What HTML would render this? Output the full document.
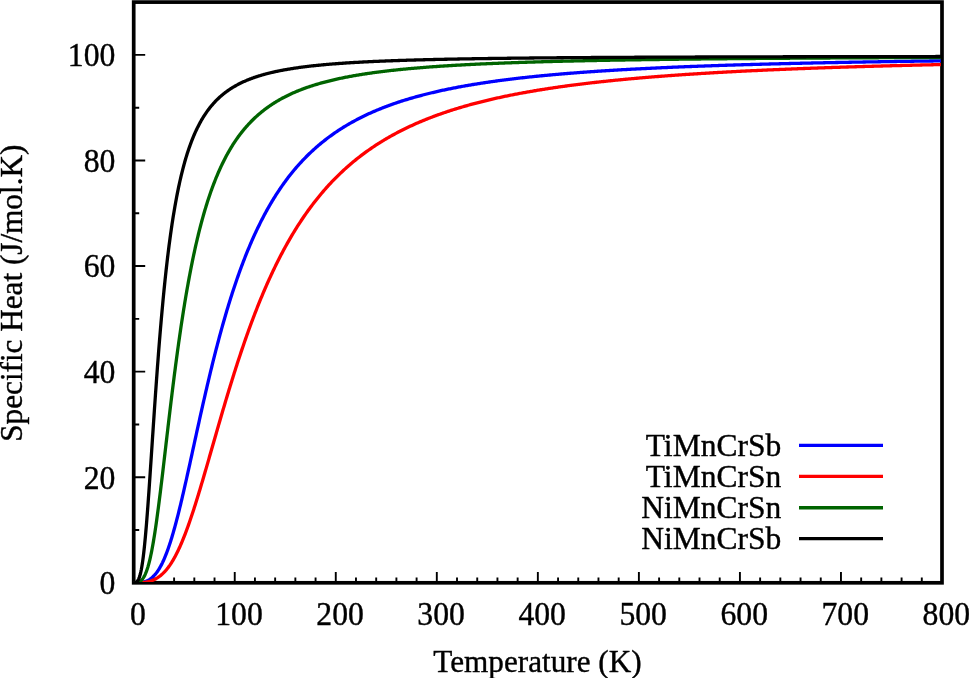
<!DOCTYPE html>
<html><head><meta charset="utf-8"><style>
html,body{margin:0;padding:0;background:#fff;overflow:hidden;}
svg{display:block;will-change:transform;}
text{font-family:"Liberation Serif",serif;font-size:33px;fill:#000;stroke:#000;stroke-width:0.4px;}
</style></head><body>
<svg width="969" height="678" viewBox="0 0 969 678">
<rect width="969" height="678" fill="#fff"/>
<defs><clipPath id="pa"><rect x="133.7" y="2.1" width="807.20" height="579.80"/></clipPath></defs>
<path d="M153.91,582.80v-5.4 M174.11,582.80v-5.4 M194.32,582.80v-5.4 M214.53,582.80v-5.4 M234.74,582.80v-10.9 M254.94,582.80v-5.4 M275.15,582.80v-5.4 M295.36,582.80v-5.4 M315.57,582.80v-5.4 M335.77,582.80v-10.9 M355.98,582.80v-5.4 M376.19,582.80v-5.4 M396.40,582.80v-5.4 M416.60,582.80v-5.4 M436.81,582.80v-10.9 M457.02,582.80v-5.4 M477.23,582.80v-5.4 M497.44,582.80v-5.4 M517.64,582.80v-5.4 M537.85,582.80v-10.9 M558.06,582.80v-5.4 M578.26,582.80v-5.4 M598.47,582.80v-5.4 M618.68,582.80v-5.4 M638.89,582.80v-10.9 M659.10,582.80v-5.4 M679.30,582.80v-5.4 M699.51,582.80v-5.4 M719.72,582.80v-5.4 M739.92,582.80v-10.9 M760.13,582.80v-5.4 M780.34,582.80v-5.4 M800.55,582.80v-5.4 M820.75,582.80v-5.4 M840.96,582.80v-10.9 M861.17,582.80v-5.4 M881.38,582.80v-5.4 M901.59,582.80v-5.4 M921.79,582.80v-5.4 M133.70,530.01h5.5 M133.70,477.22h11.5 M133.70,424.43h5.5 M133.70,371.64h11.5 M133.70,318.85h5.5 M133.70,266.05h11.5 M133.70,213.26h5.5 M133.70,160.47h11.5 M133.70,107.68h5.5 M133.70,54.89h11.5" stroke="#000" stroke-width="1.9" fill="none"/>
<rect x="133.7" y="2.1" width="808.30" height="580.70" fill="none" stroke="#000" stroke-width="3.7"/>
<g fill="none" stroke-width="3.3" stroke-linejoin="round" clip-path="url(#pa)">
<path d="M133.70,582.80 L134.21,582.80 L134.71,582.80 L135.22,582.80 L135.72,582.79 L136.23,582.79 L136.73,582.78 L137.24,582.76 L137.74,582.74 L138.25,582.72 L138.75,582.69 L139.26,582.65 L139.76,582.61 L140.27,582.56 L140.77,582.50 L141.28,582.43 L141.78,582.35 L142.29,582.26 L142.79,582.16 L143.30,582.05 L143.80,581.92 L144.31,581.79 L144.81,581.63 L145.32,581.47 L145.82,581.29 L146.33,581.09 L146.83,580.88 L147.34,580.64 L147.85,580.40 L148.35,580.13 L148.86,579.84 L149.36,579.54 L149.87,579.21 L150.37,578.86 L150.88,578.50 L151.38,578.10 L151.89,577.69 L152.39,577.25 L152.90,576.79 L153.40,576.30 L153.91,575.79 L154.41,575.25 L154.92,574.69 L155.42,574.09 L155.93,573.47 L156.43,572.82 L156.94,572.14 L157.44,571.44 L157.95,570.70 L158.45,569.93 L158.96,569.13 L159.46,568.29 L159.97,567.43 L160.47,566.53 L160.98,565.60 L161.49,564.64 L161.99,563.64 L162.50,562.61 L163.00,561.54 L163.51,560.44 L164.01,559.31 L164.52,558.14 L165.02,556.93 L165.53,555.69 L166.03,554.42 L166.54,553.11 L167.04,551.77 L167.55,550.40 L168.05,548.99 L168.56,547.54 L169.06,546.07 L169.57,544.56 L170.07,543.01 L170.58,541.44 L171.08,539.83 L171.59,538.19 L172.09,536.52 L172.60,534.82 L173.10,533.09 L173.61,531.33 L174.11,529.54 L174.62,527.73 L175.13,525.89 L175.63,524.02 L176.14,522.12 L176.64,520.20 L177.15,518.26 L177.65,516.29 L178.16,514.30 L178.66,512.29 L179.17,510.25 L179.67,508.20 L180.18,506.13 L180.68,504.03 L181.19,501.92 L181.69,499.79 L182.20,497.65 L182.70,495.49 L183.21,493.32 L183.71,491.13 L184.22,488.93 L184.72,486.71 L185.23,484.49 L185.73,482.25 L186.24,480.00 L186.74,477.75 L187.25,475.48 L187.76,473.21 L188.26,470.93 L188.77,468.64 L189.27,466.35 L189.78,464.05 L190.28,461.75 L190.79,459.45 L191.29,457.14 L191.80,454.83 L192.30,452.51 L192.81,450.20 L193.31,447.89 L193.82,445.57 L194.32,443.26 L194.83,440.94 L195.33,438.63 L195.84,436.32 L196.34,434.01 L196.85,431.71 L197.35,429.41 L197.86,427.11 L198.36,424.82 L198.87,422.53 L199.37,420.25 L199.88,417.97 L200.38,415.70 L200.89,413.43 L201.40,411.17 L201.90,408.92 L202.41,406.67 L202.91,404.44 L203.42,402.21 L203.92,399.99 L204.43,397.78 L204.93,395.57 L205.44,393.38 L205.94,391.19 L206.45,389.02 L206.95,386.85 L207.46,384.69 L207.96,382.55 L208.47,380.41 L208.97,378.28 L209.48,376.17 L209.98,374.06 L210.49,371.97 L210.99,369.89 L211.50,367.82 L212.00,365.76 L212.51,363.71 L213.01,361.67 L213.52,359.65 L214.02,357.64 L214.53,355.63 L215.04,353.65 L215.54,351.67 L216.05,349.70 L216.55,347.75 L217.06,345.81 L217.56,343.88 L218.07,341.96 L218.57,340.06 L219.08,338.17 L219.58,336.29 L220.09,334.42 L220.59,332.57 L221.10,330.73 L221.60,328.90 L222.11,327.08 L222.61,325.28 L223.12,323.49 L223.62,321.71 L224.13,319.94 L224.63,318.18 L225.14,316.44 L225.64,314.71 L226.15,313.00 L226.65,311.29 L227.16,309.60 L227.66,307.92 L228.17,306.25 L228.68,304.59 L229.18,302.95 L229.69,301.32 L230.19,299.70 L230.70,298.09 L231.20,296.50 L231.71,294.91 L232.21,293.34 L232.72,291.78 L233.22,290.24 L233.73,288.70 L234.23,287.18 L234.74,285.66 L235.24,284.16 L235.75,282.67 L236.25,281.20 L236.76,279.73 L237.26,278.27 L237.77,276.83 L238.27,275.40 L238.78,273.98 L239.28,272.56 L239.79,271.17 L240.29,269.78 L240.80,268.40 L241.30,267.03 L241.81,265.68 L242.32,264.33 L242.82,263.00 L243.33,261.67 L243.83,260.36 L244.34,259.05 L244.84,257.76 L245.35,256.48 L245.85,255.20 L246.36,253.94 L246.86,252.69 L247.37,251.44 L247.87,250.21 L248.38,248.99 L248.88,247.77 L249.39,246.57 L249.89,245.38 L250.40,244.19 L250.90,243.01 L251.41,241.85 L251.91,240.69 L252.42,239.54 L252.92,238.40 L253.43,237.27 L253.93,236.15 L254.44,235.04 L254.94,233.94 L255.45,232.84 L255.96,231.76 L256.46,230.68 L256.97,229.61 L257.47,228.55 L257.98,227.50 L258.48,226.46 L258.99,225.42 L259.49,224.40 L260.00,223.38 L260.50,222.37 L261.01,221.37 L261.51,220.37 L262.02,219.38 L262.52,218.40 L263.03,217.43 L263.53,216.47 L264.04,215.51 L264.54,214.56 L265.05,213.62 L265.55,212.69 L266.06,211.76 L266.56,210.84 L267.07,209.93 L267.57,209.03 L268.08,208.13 L268.59,207.24 L269.09,206.35 L269.60,205.48 L270.10,204.61 L270.61,203.74 L271.11,202.89 L271.62,202.04 L272.12,201.19 L272.63,200.36 L273.13,199.53 L273.64,198.70 L274.14,197.89 L274.65,197.07 L275.15,196.27 L275.66,195.47 L276.16,194.68 L276.67,193.89 L277.17,193.11 L277.68,192.34 L278.18,191.57 L278.69,190.80 L279.19,190.05 L279.70,189.30 L280.20,188.55 L280.71,187.81 L281.21,187.08 L281.72,186.35 L282.23,185.63 L282.73,184.91 L283.24,184.20 L283.74,183.49 L284.25,182.79 L284.75,182.09 L285.26,181.40 L286.27,180.03 L287.28,178.69 L288.29,177.36 L289.30,176.05 L290.31,174.77 L291.32,173.50 L292.33,172.25 L293.34,171.02 L294.35,169.80 L295.36,168.61 L296.37,167.43 L297.38,166.27 L298.39,165.12 L299.40,163.99 L300.41,162.88 L301.42,161.79 L302.43,160.70 L303.44,159.64 L304.45,158.59 L305.46,157.55 L306.47,156.53 L307.48,155.52 L308.49,154.53 L309.51,153.55 L310.52,152.59 L311.53,151.64 L312.54,150.70 L313.55,149.77 L314.56,148.86 L315.57,147.96 L316.58,147.07 L317.59,146.19 L318.60,145.33 L319.61,144.47 L320.62,143.63 L321.63,142.80 L322.64,141.98 L323.65,141.17 L324.66,140.37 L325.67,139.58 L326.68,138.81 L327.69,138.04 L328.70,137.28 L329.71,136.54 L330.72,135.80 L331.73,135.07 L332.74,134.35 L333.75,133.64 L334.76,132.94 L335.77,132.25 L336.79,131.57 L337.80,130.89 L338.81,130.23 L339.82,129.57 L340.83,128.92 L341.84,128.28 L342.85,127.65 L343.86,127.02 L344.87,126.40 L345.88,125.79 L346.89,125.19 L347.90,124.60 L348.91,124.01 L349.92,123.43 L350.93,122.86 L351.94,122.29 L352.95,121.73 L353.96,121.18 L354.97,120.63 L355.98,120.09 L356.99,119.55 L358.00,119.03 L359.01,118.51 L360.02,117.99 L361.03,117.48 L362.04,116.98 L363.06,116.48 L364.07,115.99 L365.08,115.50 L366.09,115.02 L367.10,114.55 L368.11,114.08 L369.12,113.62 L370.13,113.16 L371.14,112.71 L372.15,112.26 L373.16,111.81 L374.17,111.38 L375.18,110.94 L376.19,110.51 L377.20,110.09 L378.21,109.67 L379.22,109.26 L380.23,108.85 L381.24,108.44 L382.25,108.04 L383.26,107.64 L384.27,107.25 L385.28,106.86 L386.29,106.48 L387.30,106.10 L388.31,105.72 L389.32,105.35 L390.34,104.99 L391.35,104.62 L392.36,104.26 L393.37,103.91 L394.38,103.55 L395.39,103.21 L396.40,102.86 L397.41,102.52 L398.42,102.18 L399.43,101.85 L400.44,101.52 L401.45,101.19 L402.46,100.87 L403.47,100.55 L404.48,100.23 L405.49,99.91 L406.50,99.60 L407.51,99.30 L408.52,98.99 L409.53,98.69 L410.54,98.39 L411.55,98.10 L412.56,97.80 L413.57,97.51 L414.58,97.23 L415.59,96.94 L416.60,96.66 L417.62,96.38 L418.63,96.11 L419.64,95.84 L420.65,95.57 L421.66,95.30 L422.67,95.03 L423.68,94.77 L424.69,94.51 L425.70,94.25 L426.71,94.00 L427.72,93.75 L428.73,93.50 L429.74,93.25 L430.75,93.00 L431.76,92.76 L432.77,92.52 L433.78,92.28 L434.79,92.05 L435.80,91.81 L436.81,91.58 L437.82,91.35 L438.83,91.12 L439.84,90.90 L440.85,90.68 L441.86,90.45 L442.87,90.24 L443.89,90.02 L444.90,89.80 L445.91,89.59 L446.92,89.38 L447.93,89.17 L448.94,88.96 L449.95,88.76 L450.96,88.55 L451.97,88.35 L452.98,88.15 L453.99,87.95 L455.00,87.76 L456.01,87.56 L457.02,87.37 L458.03,87.18 L459.04,86.99 L460.05,86.80 L461.06,86.61 L462.07,86.43 L463.08,86.25 L464.09,86.07 L465.10,85.89 L466.11,85.71 L467.12,85.53 L468.13,85.36 L469.14,85.18 L470.15,85.01 L471.17,84.84 L472.18,84.67 L473.19,84.50 L474.20,84.33 L475.21,84.17 L476.22,84.01 L477.23,83.84 L478.24,83.68 L479.25,83.52 L480.26,83.37 L481.27,83.21 L482.28,83.05 L483.29,82.90 L484.30,82.75 L485.31,82.59 L486.32,82.44 L487.33,82.29 L488.34,82.15 L489.35,82.00 L490.36,81.85 L491.37,81.71 L492.38,81.57 L493.39,81.42 L494.40,81.28 L495.41,81.14 L496.42,81.00 L497.44,80.87 L498.45,80.73 L499.46,80.59 L500.47,80.46 L501.48,80.33 L502.49,80.19 L503.50,80.06 L504.51,79.93 L505.52,79.80 L506.53,79.67 L507.54,79.55 L508.55,79.42 L509.56,79.30 L510.57,79.17 L511.58,79.05 L512.59,78.93 L513.60,78.81 L514.61,78.68 L515.62,78.57 L516.63,78.45 L517.64,78.33 L518.65,78.21 L519.66,78.10 L520.67,77.98 L521.68,77.87 L522.69,77.75 L523.70,77.64 L524.72,77.53 L525.73,77.42 L526.74,77.31 L527.75,77.20 L528.76,77.09 L529.77,76.98 L530.78,76.88 L531.79,76.77 L532.80,76.67 L533.81,76.56 L534.82,76.46 L535.83,76.36 L536.84,76.25 L537.85,76.15 L538.86,76.05 L539.87,75.95 L540.88,75.85 L541.89,75.75 L542.90,75.66 L543.91,75.56 L544.92,75.46 L545.93,75.37 L546.94,75.27 L547.95,75.18 L548.96,75.08 L549.97,74.99 L550.98,74.90 L552.00,74.81 L553.01,74.72 L554.02,74.63 L555.03,74.54 L556.04,74.45 L557.05,74.36 L558.06,74.27 L559.07,74.18 L560.08,74.10 L561.09,74.01 L562.10,73.93 L563.11,73.84 L564.12,73.76 L565.13,73.67 L566.14,73.59 L567.15,73.51 L568.16,73.43 L569.17,73.34 L570.18,73.26 L571.19,73.18 L572.20,73.10 L573.21,73.02 L574.22,72.95 L575.23,72.87 L576.24,72.79 L577.25,72.71 L578.26,72.64 L579.28,72.56 L580.29,72.48 L581.30,72.41 L582.31,72.33 L583.32,72.26 L584.33,72.19 L585.34,72.11 L586.35,72.04 L587.36,71.97 L588.37,71.90 L589.38,71.83 L590.39,71.76 L591.40,71.68 L592.41,71.62 L593.42,71.55 L594.43,71.48 L595.44,71.41 L596.45,71.34 L597.46,71.27 L598.47,71.21 L599.48,71.14 L600.49,71.07 L601.50,71.01 L602.51,70.94 L603.52,70.88 L604.53,70.81 L605.55,70.75 L606.56,70.68 L607.57,70.62 L608.58,70.56 L609.59,70.49 L610.60,70.43 L611.61,70.37 L612.62,70.31 L613.63,70.25 L614.64,70.19 L615.65,70.13 L616.66,70.07 L617.67,70.01 L618.68,69.95 L619.69,69.89 L620.70,69.83 L621.71,69.77 L622.72,69.71 L623.73,69.66 L624.74,69.60 L625.75,69.54 L626.76,69.49 L627.77,69.43 L628.78,69.37 L629.79,69.32 L630.80,69.26 L631.81,69.21 L632.83,69.15 L633.84,69.10 L634.85,69.05 L635.86,68.99 L636.87,68.94 L637.88,68.89 L638.89,68.84 L639.90,68.78 L640.91,68.73 L641.92,68.68 L642.93,68.63 L643.94,68.58 L644.95,68.53 L645.96,68.48 L646.97,68.43 L647.98,68.38 L648.99,68.33 L650.00,68.28 L651.01,68.23 L652.02,68.18 L653.03,68.13 L654.04,68.08 L655.05,68.04 L656.06,67.99 L657.07,67.94 L658.08,67.89 L659.10,67.85 L660.11,67.80 L661.12,67.76 L662.13,67.71 L663.14,67.66 L664.15,67.62 L665.16,67.57 L666.17,67.53 L667.18,67.48 L668.19,67.44 L669.20,67.40 L670.21,67.35 L671.22,67.31 L672.23,67.26 L673.24,67.22 L674.25,67.18 L675.26,67.14 L676.27,67.09 L677.28,67.05 L678.29,67.01 L679.30,66.97 L680.31,66.93 L681.32,66.89 L682.33,66.84 L683.34,66.80 L684.35,66.76 L685.36,66.72 L686.38,66.68 L687.39,66.64 L688.40,66.60 L689.41,66.56 L690.42,66.52 L691.43,66.48 L692.44,66.45 L693.45,66.41 L694.46,66.37 L695.47,66.33 L696.48,66.29 L697.49,66.25 L698.50,66.22 L699.51,66.18 L700.52,66.14 L701.53,66.11 L702.54,66.07 L703.55,66.03 L704.56,66.00 L705.57,65.96 L706.58,65.92 L707.59,65.89 L708.60,65.85 L709.61,65.82 L710.62,65.78 L711.63,65.75 L712.64,65.71 L713.66,65.68 L714.67,65.64 L715.68,65.61 L716.69,65.57 L717.70,65.54 L718.71,65.51 L719.72,65.47 L720.73,65.44 L721.74,65.40 L722.75,65.37 L723.76,65.34 L724.77,65.31 L725.78,65.27 L726.79,65.24 L727.80,65.21 L728.81,65.18 L729.82,65.14 L730.83,65.11 L731.84,65.08 L732.85,65.05 L733.86,65.02 L734.87,64.99 L735.88,64.96 L736.89,64.92 L737.90,64.89 L738.91,64.86 L739.92,64.83 L740.94,64.80 L741.95,64.77 L742.96,64.74 L743.97,64.71 L744.98,64.68 L745.99,64.65 L747.00,64.62 L748.01,64.59 L749.02,64.57 L750.03,64.54 L751.04,64.51 L752.05,64.48 L753.06,64.45 L754.07,64.42 L755.08,64.39 L756.09,64.37 L757.10,64.34 L758.11,64.31 L759.12,64.28 L760.13,64.26 L761.14,64.23 L762.15,64.20 L763.16,64.17 L764.17,64.15 L765.18,64.12 L766.19,64.09 L767.21,64.07 L768.22,64.04 L769.23,64.01 L770.24,63.99 L771.25,63.96 L772.26,63.93 L773.27,63.91 L774.28,63.88 L775.29,63.86 L776.30,63.83 L777.31,63.81 L778.32,63.78 L779.33,63.76 L780.34,63.73 L781.35,63.71 L782.36,63.68 L783.37,63.66 L784.38,63.63 L785.39,63.61 L786.40,63.58 L787.41,63.56 L788.42,63.53 L789.43,63.51 L790.44,63.49 L791.45,63.46 L792.46,63.44 L793.47,63.42 L794.49,63.39 L795.50,63.37 L796.51,63.35 L797.52,63.32 L798.53,63.30 L799.54,63.28 L800.55,63.25 L801.56,63.23 L802.57,63.21 L803.58,63.19 L804.59,63.16 L805.60,63.14 L806.61,63.12 L807.62,63.10 L808.63,63.07 L809.64,63.05 L810.65,63.03 L811.66,63.01 L812.67,62.99 L813.68,62.97 L814.69,62.94 L815.70,62.92 L816.71,62.90 L817.72,62.88 L818.73,62.86 L819.74,62.84 L820.75,62.82 L821.77,62.80 L822.78,62.78 L823.79,62.76 L824.80,62.74 L825.81,62.72 L826.82,62.69 L827.83,62.67 L828.84,62.65 L829.85,62.63 L830.86,62.61 L831.87,62.59 L832.88,62.57 L833.89,62.56 L834.90,62.54 L835.91,62.52 L836.92,62.50 L837.93,62.48 L838.94,62.46 L839.95,62.44 L840.96,62.42 L841.97,62.40 L842.98,62.38 L843.99,62.36 L845.00,62.34 L846.01,62.33 L847.02,62.31 L848.04,62.29 L849.05,62.27 L850.06,62.25 L851.07,62.23 L852.08,62.21 L853.09,62.20 L854.10,62.18 L855.11,62.16 L856.12,62.14 L857.13,62.12 L858.14,62.11 L859.15,62.09 L860.16,62.07 L861.17,62.05 L862.18,62.04 L863.19,62.02 L864.20,62.00 L865.21,61.98 L866.22,61.97 L867.23,61.95 L868.24,61.93 L869.25,61.92 L870.26,61.90 L871.27,61.88 L872.28,61.87 L873.29,61.85 L874.30,61.83 L875.32,61.82 L876.33,61.80 L877.34,61.78 L878.35,61.77 L879.36,61.75 L880.37,61.73 L881.38,61.72 L882.39,61.70 L883.40,61.69 L884.41,61.67 L885.42,61.65 L886.43,61.64 L887.44,61.62 L888.45,61.61 L889.46,61.59 L890.47,61.58 L891.48,61.56 L892.49,61.55 L893.50,61.53 L894.51,61.51 L895.52,61.50 L896.53,61.48 L897.54,61.47 L898.55,61.45 L899.56,61.44 L900.57,61.42 L901.59,61.41 L902.60,61.39 L903.61,61.38 L904.62,61.36 L905.63,61.35 L906.64,61.34 L907.65,61.32 L908.66,61.31 L909.67,61.29 L910.68,61.28 L911.69,61.26 L912.70,61.25 L913.71,61.23 L914.72,61.22 L915.73,61.21 L916.74,61.19 L917.75,61.18 L918.76,61.16 L919.77,61.15 L920.78,61.14 L921.79,61.12 L922.80,61.11 L923.81,61.10 L924.82,61.08 L925.83,61.07 L926.84,61.06 L927.85,61.04 L928.87,61.03 L929.88,61.02 L930.89,61.00 L931.90,60.99 L932.91,60.98 L933.92,60.96 L934.93,60.95 L935.94,60.94 L936.95,60.92 L937.96,60.91 L938.97,60.90 L939.98,60.88 L940.99,60.87 L942.00,60.86" stroke="#0000ff" />
<path d="M133.70,582.80 L134.21,582.80 L134.71,582.80 L135.22,582.80 L135.72,582.80 L136.23,582.79 L136.73,582.79 L137.24,582.78 L137.74,582.78 L138.25,582.76 L138.75,582.75 L139.26,582.74 L139.76,582.72 L140.27,582.69 L140.77,582.67 L141.28,582.64 L141.78,582.60 L142.29,582.56 L142.79,582.52 L143.30,582.47 L143.80,582.41 L144.31,582.35 L144.81,582.29 L145.32,582.21 L145.82,582.13 L146.33,582.05 L146.83,581.95 L147.34,581.85 L147.85,581.74 L148.35,581.62 L148.86,581.50 L149.36,581.36 L149.87,581.22 L150.37,581.07 L150.88,580.91 L151.38,580.73 L151.89,580.55 L152.39,580.36 L152.90,580.16 L153.40,579.94 L153.91,579.72 L154.41,579.48 L154.92,579.23 L155.42,578.97 L155.93,578.69 L156.43,578.41 L156.94,578.11 L157.44,577.80 L157.95,577.47 L158.45,577.13 L158.96,576.77 L159.46,576.41 L159.97,576.02 L160.47,575.62 L160.98,575.21 L161.49,574.78 L161.99,574.34 L162.50,573.87 L163.00,573.40 L163.51,572.90 L164.01,572.39 L164.52,571.86 L165.02,571.32 L165.53,570.76 L166.03,570.17 L166.54,569.58 L167.04,568.96 L167.55,568.32 L168.05,567.67 L168.56,566.99 L169.06,566.30 L169.57,565.59 L170.07,564.86 L170.58,564.11 L171.08,563.34 L171.59,562.55 L172.09,561.74 L172.60,560.91 L173.10,560.06 L173.61,559.20 L174.11,558.31 L174.62,557.40 L175.13,556.47 L175.63,555.52 L176.14,554.55 L176.64,553.56 L177.15,552.55 L177.65,551.52 L178.16,550.48 L178.66,549.41 L179.17,548.32 L179.67,547.21 L180.18,546.09 L180.68,544.94 L181.19,543.77 L181.69,542.59 L182.20,541.39 L182.70,540.17 L183.21,538.93 L183.71,537.67 L184.22,536.40 L184.72,535.10 L185.23,533.79 L185.73,532.47 L186.24,531.12 L186.74,529.76 L187.25,528.39 L187.76,526.99 L188.26,525.59 L188.77,524.16 L189.27,522.72 L189.78,521.27 L190.28,519.80 L190.79,518.32 L191.29,516.83 L191.80,515.32 L192.30,513.80 L192.81,512.26 L193.31,510.72 L193.82,509.16 L194.32,507.59 L194.83,506.01 L195.33,504.42 L195.84,502.81 L196.34,501.20 L196.85,499.58 L197.35,497.95 L197.86,496.31 L198.36,494.66 L198.87,493.00 L199.37,491.33 L199.88,489.66 L200.38,487.98 L200.89,486.29 L201.40,484.59 L201.90,482.89 L202.41,481.18 L202.91,479.47 L203.42,477.75 L203.92,476.03 L204.43,474.30 L204.93,472.57 L205.44,470.83 L205.94,469.09 L206.45,467.35 L206.95,465.60 L207.46,463.85 L207.96,462.10 L208.47,460.34 L208.97,458.58 L209.48,456.83 L209.98,455.07 L210.49,453.31 L210.99,451.54 L211.50,449.78 L212.00,448.02 L212.51,446.26 L213.01,444.49 L213.52,442.73 L214.02,440.97 L214.53,439.21 L215.04,437.45 L215.54,435.69 L216.05,433.93 L216.55,432.17 L217.06,430.42 L217.56,428.67 L218.07,426.92 L218.57,425.17 L219.08,423.43 L219.58,421.69 L220.09,419.95 L220.59,418.21 L221.10,416.48 L221.60,414.75 L222.11,413.03 L222.61,411.31 L223.12,409.59 L223.62,407.88 L224.13,406.17 L224.63,404.47 L225.14,402.77 L225.64,401.07 L226.15,399.38 L226.65,397.70 L227.16,396.02 L227.66,394.34 L228.17,392.67 L228.68,391.01 L229.18,389.35 L229.69,387.70 L230.19,386.05 L230.70,384.41 L231.20,382.77 L231.71,381.14 L232.21,379.52 L232.72,377.90 L233.22,376.29 L233.73,374.68 L234.23,373.08 L234.74,371.49 L235.24,369.90 L235.75,368.32 L236.25,366.75 L236.76,365.18 L237.26,363.62 L237.77,362.07 L238.27,360.52 L238.78,358.98 L239.28,357.45 L239.79,355.92 L240.29,354.40 L240.80,352.89 L241.30,351.38 L241.81,349.88 L242.32,348.39 L242.82,346.91 L243.33,345.43 L243.83,343.96 L244.34,342.50 L244.84,341.04 L245.35,339.59 L245.85,338.15 L246.36,336.71 L246.86,335.29 L247.37,333.87 L247.87,332.45 L248.38,331.05 L248.88,329.65 L249.39,328.26 L249.89,326.87 L250.40,325.50 L250.90,324.13 L251.41,322.76 L251.91,321.41 L252.42,320.06 L252.92,318.72 L253.43,317.39 L253.93,316.06 L254.44,314.74 L254.94,313.43 L255.45,312.12 L255.96,310.82 L256.46,309.53 L256.97,308.25 L257.47,306.97 L257.98,305.70 L258.48,304.44 L258.99,303.19 L259.49,301.94 L260.00,300.70 L260.50,299.46 L261.01,298.23 L261.51,297.01 L262.02,295.80 L262.52,294.59 L263.03,293.39 L263.53,292.20 L264.04,291.02 L264.54,289.84 L265.05,288.66 L265.55,287.50 L266.06,286.34 L266.56,285.19 L267.07,284.04 L267.57,282.91 L268.08,281.77 L268.59,280.65 L269.09,279.53 L269.60,278.42 L270.10,277.31 L270.61,276.21 L271.11,275.12 L271.62,274.03 L272.12,272.95 L272.63,271.88 L273.13,270.81 L273.64,269.75 L274.14,268.70 L274.65,267.65 L275.15,266.61 L275.66,265.57 L276.16,264.54 L276.67,263.52 L277.17,262.50 L277.68,261.49 L278.18,260.49 L278.69,259.49 L279.19,258.50 L279.70,257.51 L280.20,256.53 L280.71,255.55 L281.21,254.58 L281.72,253.62 L282.23,252.66 L282.73,251.71 L283.24,250.76 L283.74,249.82 L284.25,248.89 L284.75,247.96 L285.26,247.04 L286.27,245.21 L287.28,243.40 L288.29,241.61 L289.30,239.85 L290.31,238.10 L291.32,236.38 L292.33,234.68 L293.34,233.00 L294.35,231.33 L295.36,229.69 L296.37,228.07 L297.38,226.47 L298.39,224.89 L299.40,223.32 L300.41,221.78 L301.42,220.25 L302.43,218.74 L303.44,217.25 L304.45,215.78 L305.46,214.33 L306.47,212.89 L307.48,211.47 L308.49,210.07 L309.51,208.68 L310.52,207.31 L311.53,205.96 L312.54,204.62 L313.55,203.30 L314.56,201.99 L315.57,200.70 L316.58,199.43 L317.59,198.16 L318.60,196.92 L319.61,195.69 L320.62,194.47 L321.63,193.27 L322.64,192.08 L323.65,190.91 L324.66,189.75 L325.67,188.60 L326.68,187.46 L327.69,186.34 L328.70,185.23 L329.71,184.14 L330.72,183.06 L331.73,181.99 L332.74,180.93 L333.75,179.88 L334.76,178.85 L335.77,177.83 L336.79,176.82 L337.80,175.82 L338.81,174.83 L339.82,173.85 L340.83,172.89 L341.84,171.93 L342.85,170.99 L343.86,170.05 L344.87,169.13 L345.88,168.22 L346.89,167.31 L347.90,166.42 L348.91,165.54 L349.92,164.67 L350.93,163.80 L351.94,162.95 L352.95,162.10 L353.96,161.27 L354.97,160.44 L355.98,159.62 L356.99,158.82 L358.00,158.02 L359.01,157.23 L360.02,156.44 L361.03,155.67 L362.04,154.90 L363.06,154.15 L364.07,153.40 L365.08,152.65 L366.09,151.92 L367.10,151.19 L368.11,150.48 L369.12,149.77 L370.13,149.06 L371.14,148.37 L372.15,147.68 L373.16,147.00 L374.17,146.32 L375.18,145.66 L376.19,144.99 L377.20,144.34 L378.21,143.69 L379.22,143.05 L380.23,142.42 L381.24,141.79 L382.25,141.17 L383.26,140.56 L384.27,139.95 L385.28,139.35 L386.29,138.75 L387.30,138.16 L388.31,137.58 L389.32,137.00 L390.34,136.43 L391.35,135.86 L392.36,135.30 L393.37,134.75 L394.38,134.20 L395.39,133.65 L396.40,133.11 L397.41,132.58 L398.42,132.05 L399.43,131.53 L400.44,131.01 L401.45,130.50 L402.46,129.99 L403.47,129.48 L404.48,128.99 L405.49,128.49 L406.50,128.00 L407.51,127.52 L408.52,127.04 L409.53,126.56 L410.54,126.09 L411.55,125.63 L412.56,125.17 L413.57,124.71 L414.58,124.26 L415.59,123.81 L416.60,123.36 L417.62,122.92 L418.63,122.49 L419.64,122.05 L420.65,121.63 L421.66,121.20 L422.67,120.78 L423.68,120.36 L424.69,119.95 L425.70,119.54 L426.71,119.14 L427.72,118.74 L428.73,118.34 L429.74,117.94 L430.75,117.55 L431.76,117.17 L432.77,116.78 L433.78,116.40 L434.79,116.03 L435.80,115.65 L436.81,115.28 L437.82,114.92 L438.83,114.55 L439.84,114.19 L440.85,113.83 L441.86,113.48 L442.87,113.13 L443.89,112.78 L444.90,112.44 L445.91,112.10 L446.92,111.76 L447.93,111.42 L448.94,111.09 L449.95,110.76 L450.96,110.43 L451.97,110.11 L452.98,109.78 L453.99,109.47 L455.00,109.15 L456.01,108.84 L457.02,108.52 L458.03,108.22 L459.04,107.91 L460.05,107.61 L461.06,107.31 L462.07,107.01 L463.08,106.71 L464.09,106.42 L465.10,106.13 L466.11,105.84 L467.12,105.56 L468.13,105.27 L469.14,104.99 L470.15,104.71 L471.17,104.44 L472.18,104.16 L473.19,103.89 L474.20,103.62 L475.21,103.35 L476.22,103.09 L477.23,102.82 L478.24,102.56 L479.25,102.30 L480.26,102.05 L481.27,101.79 L482.28,101.54 L483.29,101.29 L484.30,101.04 L485.31,100.79 L486.32,100.55 L487.33,100.30 L488.34,100.06 L489.35,99.82 L490.36,99.59 L491.37,99.35 L492.38,99.12 L493.39,98.89 L494.40,98.66 L495.41,98.43 L496.42,98.20 L497.44,97.98 L498.45,97.75 L499.46,97.53 L500.47,97.31 L501.48,97.09 L502.49,96.88 L503.50,96.66 L504.51,96.45 L505.52,96.24 L506.53,96.03 L507.54,95.82 L508.55,95.61 L509.56,95.41 L510.57,95.21 L511.58,95.00 L512.59,94.80 L513.60,94.60 L514.61,94.41 L515.62,94.21 L516.63,94.02 L517.64,93.82 L518.65,93.63 L519.66,93.44 L520.67,93.25 L521.68,93.06 L522.69,92.88 L523.70,92.69 L524.72,92.51 L525.73,92.33 L526.74,92.15 L527.75,91.97 L528.76,91.79 L529.77,91.61 L530.78,91.44 L531.79,91.26 L532.80,91.09 L533.81,90.92 L534.82,90.75 L535.83,90.58 L536.84,90.41 L537.85,90.24 L538.86,90.08 L539.87,89.91 L540.88,89.75 L541.89,89.58 L542.90,89.42 L543.91,89.26 L544.92,89.10 L545.93,88.95 L546.94,88.79 L547.95,88.63 L548.96,88.48 L549.97,88.32 L550.98,88.17 L552.00,88.02 L553.01,87.87 L554.02,87.72 L555.03,87.57 L556.04,87.42 L557.05,87.28 L558.06,87.13 L559.07,86.99 L560.08,86.84 L561.09,86.70 L562.10,86.56 L563.11,86.42 L564.12,86.28 L565.13,86.14 L566.14,86.00 L567.15,85.87 L568.16,85.73 L569.17,85.60 L570.18,85.46 L571.19,85.33 L572.20,85.20 L573.21,85.06 L574.22,84.93 L575.23,84.80 L576.24,84.67 L577.25,84.55 L578.26,84.42 L579.28,84.29 L580.29,84.17 L581.30,84.04 L582.31,83.92 L583.32,83.79 L584.33,83.67 L585.34,83.55 L586.35,83.43 L587.36,83.31 L588.37,83.19 L589.38,83.07 L590.39,82.95 L591.40,82.84 L592.41,82.72 L593.42,82.60 L594.43,82.49 L595.44,82.37 L596.45,82.26 L597.46,82.15 L598.47,82.04 L599.48,81.92 L600.49,81.81 L601.50,81.70 L602.51,81.59 L603.52,81.49 L604.53,81.38 L605.55,81.27 L606.56,81.16 L607.57,81.06 L608.58,80.95 L609.59,80.85 L610.60,80.74 L611.61,80.64 L612.62,80.54 L613.63,80.44 L614.64,80.33 L615.65,80.23 L616.66,80.13 L617.67,80.03 L618.68,79.93 L619.69,79.84 L620.70,79.74 L621.71,79.64 L622.72,79.54 L623.73,79.45 L624.74,79.35 L625.75,79.26 L626.76,79.16 L627.77,79.07 L628.78,78.97 L629.79,78.88 L630.80,78.79 L631.81,78.70 L632.83,78.61 L633.84,78.52 L634.85,78.43 L635.86,78.34 L636.87,78.25 L637.88,78.16 L638.89,78.07 L639.90,77.98 L640.91,77.90 L641.92,77.81 L642.93,77.72 L643.94,77.64 L644.95,77.55 L645.96,77.47 L646.97,77.38 L647.98,77.30 L648.99,77.22 L650.00,77.13 L651.01,77.05 L652.02,76.97 L653.03,76.89 L654.04,76.81 L655.05,76.73 L656.06,76.65 L657.07,76.57 L658.08,76.49 L659.10,76.41 L660.11,76.33 L661.12,76.26 L662.13,76.18 L663.14,76.10 L664.15,76.03 L665.16,75.95 L666.17,75.87 L667.18,75.80 L668.19,75.72 L669.20,75.65 L670.21,75.58 L671.22,75.50 L672.23,75.43 L673.24,75.36 L674.25,75.28 L675.26,75.21 L676.27,75.14 L677.28,75.07 L678.29,75.00 L679.30,74.93 L680.31,74.86 L681.32,74.79 L682.33,74.72 L683.34,74.65 L684.35,74.58 L685.36,74.52 L686.38,74.45 L687.39,74.38 L688.40,74.31 L689.41,74.25 L690.42,74.18 L691.43,74.11 L692.44,74.05 L693.45,73.98 L694.46,73.92 L695.47,73.85 L696.48,73.79 L697.49,73.73 L698.50,73.66 L699.51,73.60 L700.52,73.54 L701.53,73.47 L702.54,73.41 L703.55,73.35 L704.56,73.29 L705.57,73.23 L706.58,73.17 L707.59,73.10 L708.60,73.04 L709.61,72.98 L710.62,72.92 L711.63,72.87 L712.64,72.81 L713.66,72.75 L714.67,72.69 L715.68,72.63 L716.69,72.57 L717.70,72.52 L718.71,72.46 L719.72,72.40 L720.73,72.34 L721.74,72.29 L722.75,72.23 L723.76,72.18 L724.77,72.12 L725.78,72.06 L726.79,72.01 L727.80,71.96 L728.81,71.90 L729.82,71.85 L730.83,71.79 L731.84,71.74 L732.85,71.69 L733.86,71.63 L734.87,71.58 L735.88,71.53 L736.89,71.47 L737.90,71.42 L738.91,71.37 L739.92,71.32 L740.94,71.27 L741.95,71.22 L742.96,71.17 L743.97,71.11 L744.98,71.06 L745.99,71.01 L747.00,70.96 L748.01,70.91 L749.02,70.87 L750.03,70.82 L751.04,70.77 L752.05,70.72 L753.06,70.67 L754.07,70.62 L755.08,70.57 L756.09,70.53 L757.10,70.48 L758.11,70.43 L759.12,70.38 L760.13,70.34 L761.14,70.29 L762.15,70.24 L763.16,70.20 L764.17,70.15 L765.18,70.11 L766.19,70.06 L767.21,70.02 L768.22,69.97 L769.23,69.93 L770.24,69.88 L771.25,69.84 L772.26,69.79 L773.27,69.75 L774.28,69.70 L775.29,69.66 L776.30,69.62 L777.31,69.57 L778.32,69.53 L779.33,69.49 L780.34,69.45 L781.35,69.40 L782.36,69.36 L783.37,69.32 L784.38,69.28 L785.39,69.24 L786.40,69.19 L787.41,69.15 L788.42,69.11 L789.43,69.07 L790.44,69.03 L791.45,68.99 L792.46,68.95 L793.47,68.91 L794.49,68.87 L795.50,68.83 L796.51,68.79 L797.52,68.75 L798.53,68.71 L799.54,68.67 L800.55,68.63 L801.56,68.59 L802.57,68.56 L803.58,68.52 L804.59,68.48 L805.60,68.44 L806.61,68.40 L807.62,68.37 L808.63,68.33 L809.64,68.29 L810.65,68.25 L811.66,68.22 L812.67,68.18 L813.68,68.14 L814.69,68.11 L815.70,68.07 L816.71,68.03 L817.72,68.00 L818.73,67.96 L819.74,67.93 L820.75,67.89 L821.77,67.85 L822.78,67.82 L823.79,67.78 L824.80,67.75 L825.81,67.71 L826.82,67.68 L827.83,67.65 L828.84,67.61 L829.85,67.58 L830.86,67.54 L831.87,67.51 L832.88,67.47 L833.89,67.44 L834.90,67.41 L835.91,67.37 L836.92,67.34 L837.93,67.31 L838.94,67.28 L839.95,67.24 L840.96,67.21 L841.97,67.18 L842.98,67.14 L843.99,67.11 L845.00,67.08 L846.01,67.05 L847.02,67.02 L848.04,66.98 L849.05,66.95 L850.06,66.92 L851.07,66.89 L852.08,66.86 L853.09,66.83 L854.10,66.80 L855.11,66.77 L856.12,66.74 L857.13,66.71 L858.14,66.67 L859.15,66.64 L860.16,66.61 L861.17,66.58 L862.18,66.55 L863.19,66.52 L864.20,66.50 L865.21,66.47 L866.22,66.44 L867.23,66.41 L868.24,66.38 L869.25,66.35 L870.26,66.32 L871.27,66.29 L872.28,66.26 L873.29,66.23 L874.30,66.21 L875.32,66.18 L876.33,66.15 L877.34,66.12 L878.35,66.09 L879.36,66.06 L880.37,66.04 L881.38,66.01 L882.39,65.98 L883.40,65.95 L884.41,65.93 L885.42,65.90 L886.43,65.87 L887.44,65.85 L888.45,65.82 L889.46,65.79 L890.47,65.76 L891.48,65.74 L892.49,65.71 L893.50,65.69 L894.51,65.66 L895.52,65.63 L896.53,65.61 L897.54,65.58 L898.55,65.56 L899.56,65.53 L900.57,65.50 L901.59,65.48 L902.60,65.45 L903.61,65.43 L904.62,65.40 L905.63,65.38 L906.64,65.35 L907.65,65.33 L908.66,65.30 L909.67,65.28 L910.68,65.25 L911.69,65.23 L912.70,65.20 L913.71,65.18 L914.72,65.15 L915.73,65.13 L916.74,65.11 L917.75,65.08 L918.76,65.06 L919.77,65.03 L920.78,65.01 L921.79,64.99 L922.80,64.96 L923.81,64.94 L924.82,64.92 L925.83,64.89 L926.84,64.87 L927.85,64.85 L928.87,64.82 L929.88,64.80 L930.89,64.78 L931.90,64.76 L932.91,64.73 L933.92,64.71 L934.93,64.69 L935.94,64.67 L936.95,64.64 L937.96,64.62 L938.97,64.60 L939.98,64.58 L940.99,64.56 L942.00,64.53" stroke="#ff0000" />
<path d="M133.70,582.80 L134.21,582.80 L134.71,582.79 L135.22,582.78 L135.72,582.75 L136.23,582.71 L136.73,582.65 L137.24,582.55 L137.74,582.43 L138.25,582.28 L138.75,582.09 L139.26,581.85 L139.76,581.57 L140.27,581.23 L140.77,580.84 L141.28,580.39 L141.78,579.87 L142.29,579.29 L142.79,578.63 L143.30,577.90 L143.80,577.08 L144.31,576.18 L144.81,575.19 L145.32,574.10 L145.82,572.92 L146.33,571.64 L146.83,570.25 L147.34,568.75 L147.85,567.14 L148.35,565.41 L148.86,563.57 L149.36,561.61 L149.87,559.53 L150.37,557.33 L150.88,555.00 L151.38,552.56 L151.89,550.00 L152.39,547.31 L152.90,544.52 L153.40,541.60 L153.91,538.58 L154.41,535.44 L154.92,532.20 L155.42,528.87 L155.93,525.43 L156.43,521.90 L156.94,518.29 L157.44,514.59 L157.95,510.81 L158.45,506.96 L158.96,503.05 L159.46,499.07 L159.97,495.04 L160.47,490.95 L160.98,486.82 L161.49,482.65 L161.99,478.44 L162.50,474.20 L163.00,469.94 L163.51,465.65 L164.01,461.35 L164.52,457.03 L165.02,452.71 L165.53,448.38 L166.03,444.05 L166.54,439.72 L167.04,435.39 L167.55,431.08 L168.05,426.78 L168.56,422.49 L169.06,418.23 L169.57,413.98 L170.07,409.75 L170.58,405.55 L171.08,401.38 L171.59,397.24 L172.09,393.12 L172.60,389.04 L173.10,385.00 L173.61,380.98 L174.11,377.01 L174.62,373.07 L175.13,369.17 L175.63,365.31 L176.14,361.49 L176.64,357.71 L177.15,353.97 L177.65,350.28 L178.16,346.62 L178.66,343.01 L179.17,339.45 L179.67,335.92 L180.18,332.44 L180.68,329.00 L181.19,325.61 L181.69,322.26 L182.20,318.96 L182.70,315.69 L183.21,312.47 L183.71,309.30 L184.22,306.17 L184.72,303.08 L185.23,300.03 L185.73,297.03 L186.24,294.06 L186.74,291.14 L187.25,288.26 L187.76,285.42 L188.26,282.62 L188.77,279.87 L189.27,277.15 L189.78,274.47 L190.28,271.83 L190.79,269.23 L191.29,266.66 L191.80,264.14 L192.30,261.65 L192.81,259.19 L193.31,256.78 L193.82,254.40 L194.32,252.05 L194.83,249.74 L195.33,247.46 L195.84,245.22 L196.34,243.01 L196.85,240.83 L197.35,238.69 L197.86,236.57 L198.36,234.49 L198.87,232.44 L199.37,230.42 L199.88,228.43 L200.38,226.47 L200.89,224.53 L201.40,222.63 L201.90,220.75 L202.41,218.91 L202.91,217.08 L203.42,215.29 L203.92,213.52 L204.43,211.78 L204.93,210.07 L205.44,208.37 L205.94,206.71 L206.45,205.07 L206.95,203.45 L207.46,201.85 L207.96,200.28 L208.47,198.73 L208.97,197.20 L209.48,195.70 L209.98,194.22 L210.49,192.76 L210.99,191.31 L211.50,189.89 L212.00,188.49 L212.51,187.11 L213.01,185.75 L213.52,184.41 L214.02,183.09 L214.53,181.79 L215.04,180.50 L215.54,179.23 L216.05,177.98 L216.55,176.75 L217.06,175.54 L217.56,174.34 L218.07,173.16 L218.57,171.99 L219.08,170.84 L219.58,169.71 L220.09,168.59 L220.59,167.49 L221.10,166.40 L221.60,165.32 L222.11,164.27 L222.61,163.22 L223.12,162.19 L223.62,161.17 L224.13,160.17 L224.63,159.18 L225.14,158.20 L225.64,157.24 L226.15,156.29 L226.65,155.35 L227.16,154.42 L227.66,153.51 L228.17,152.61 L228.68,151.72 L229.18,150.84 L229.69,149.97 L230.19,149.11 L230.70,148.27 L231.20,147.43 L231.71,146.61 L232.21,145.80 L232.72,144.99 L233.22,144.20 L233.73,143.42 L234.23,142.64 L234.74,141.88 L235.24,141.13 L235.75,140.38 L236.25,139.65 L236.76,138.92 L237.26,138.20 L237.77,137.49 L238.27,136.79 L238.78,136.10 L239.28,135.42 L239.79,134.74 L240.29,134.08 L240.80,133.42 L241.30,132.77 L241.81,132.13 L242.32,131.49 L242.82,130.86 L243.33,130.24 L243.83,129.63 L244.34,129.02 L244.84,128.43 L245.35,127.83 L245.85,127.25 L246.36,126.67 L246.86,126.10 L247.37,125.54 L247.87,124.98 L248.38,124.43 L248.88,123.88 L249.39,123.34 L249.89,122.81 L250.40,122.28 L250.90,121.76 L251.41,121.25 L251.91,120.74 L252.42,120.23 L252.92,119.74 L253.43,119.24 L253.93,118.76 L254.44,118.28 L254.94,117.80 L255.45,117.33 L255.96,116.86 L256.46,116.40 L256.97,115.95 L257.47,115.50 L257.98,115.05 L258.48,114.61 L258.99,114.17 L259.49,113.74 L260.00,113.32 L260.50,112.89 L261.01,112.47 L261.51,112.06 L262.02,111.65 L262.52,111.25 L263.03,110.85 L263.53,110.45 L264.04,110.06 L264.54,109.67 L265.05,109.29 L265.55,108.91 L266.06,108.53 L266.56,108.16 L267.07,107.79 L267.57,107.42 L268.08,107.06 L268.59,106.71 L269.09,106.35 L269.60,106.00 L270.10,105.66 L270.61,105.31 L271.11,104.97 L271.62,104.64 L272.12,104.30 L272.63,103.97 L273.13,103.65 L273.64,103.33 L274.14,103.01 L274.65,102.69 L275.15,102.37 L275.66,102.06 L276.16,101.76 L276.67,101.45 L277.17,101.15 L277.68,100.85 L278.18,100.56 L278.69,100.26 L279.19,99.97 L279.70,99.68 L280.20,99.40 L280.71,99.12 L281.21,98.84 L281.72,98.56 L282.23,98.29 L282.73,98.02 L283.24,97.75 L283.74,97.48 L284.25,97.22 L284.75,96.95 L285.26,96.70 L286.27,96.18 L287.28,95.68 L288.29,95.19 L289.30,94.71 L290.31,94.23 L291.32,93.76 L292.33,93.31 L293.34,92.86 L294.35,92.41 L295.36,91.98 L296.37,91.55 L297.38,91.13 L298.39,90.72 L299.40,90.31 L300.41,89.92 L301.42,89.52 L302.43,89.14 L303.44,88.76 L304.45,88.39 L305.46,88.02 L306.47,87.66 L307.48,87.31 L308.49,86.96 L309.51,86.62 L310.52,86.28 L311.53,85.95 L312.54,85.62 L313.55,85.30 L314.56,84.98 L315.57,84.67 L316.58,84.37 L317.59,84.06 L318.60,83.77 L319.61,83.47 L320.62,83.19 L321.63,82.90 L322.64,82.62 L323.65,82.35 L324.66,82.08 L325.67,81.81 L326.68,81.55 L327.69,81.29 L328.70,81.04 L329.71,80.79 L330.72,80.54 L331.73,80.30 L332.74,80.05 L333.75,79.82 L334.76,79.59 L335.77,79.36 L336.79,79.13 L337.80,78.91 L338.81,78.69 L339.82,78.47 L340.83,78.25 L341.84,78.04 L342.85,77.83 L343.86,77.63 L344.87,77.43 L345.88,77.23 L346.89,77.03 L347.90,76.84 L348.91,76.65 L349.92,76.46 L350.93,76.27 L351.94,76.09 L352.95,75.90 L353.96,75.73 L354.97,75.55 L355.98,75.37 L356.99,75.20 L358.00,75.03 L359.01,74.86 L360.02,74.70 L361.03,74.54 L362.04,74.37 L363.06,74.22 L364.07,74.06 L365.08,73.90 L366.09,73.75 L367.10,73.60 L368.11,73.45 L369.12,73.30 L370.13,73.16 L371.14,73.01 L372.15,72.87 L373.16,72.73 L374.17,72.59 L375.18,72.46 L376.19,72.32 L377.20,72.19 L378.21,72.05 L379.22,71.92 L380.23,71.80 L381.24,71.67 L382.25,71.54 L383.26,71.42 L384.27,71.30 L385.28,71.17 L386.29,71.05 L387.30,70.94 L388.31,70.82 L389.32,70.70 L390.34,70.59 L391.35,70.47 L392.36,70.36 L393.37,70.25 L394.38,70.14 L395.39,70.03 L396.40,69.93 L397.41,69.82 L398.42,69.72 L399.43,69.61 L400.44,69.51 L401.45,69.41 L402.46,69.31 L403.47,69.21 L404.48,69.11 L405.49,69.02 L406.50,68.92 L407.51,68.83 L408.52,68.73 L409.53,68.64 L410.54,68.55 L411.55,68.46 L412.56,68.37 L413.57,68.28 L414.58,68.19 L415.59,68.11 L416.60,68.02 L417.62,67.94 L418.63,67.85 L419.64,67.77 L420.65,67.69 L421.66,67.60 L422.67,67.52 L423.68,67.44 L424.69,67.37 L425.70,67.29 L426.71,67.21 L427.72,67.13 L428.73,67.06 L429.74,66.98 L430.75,66.91 L431.76,66.83 L432.77,66.76 L433.78,66.69 L434.79,66.62 L435.80,66.55 L436.81,66.48 L437.82,66.41 L438.83,66.34 L439.84,66.27 L440.85,66.20 L441.86,66.14 L442.87,66.07 L443.89,66.01 L444.90,65.94 L445.91,65.88 L446.92,65.81 L447.93,65.75 L448.94,65.69 L449.95,65.63 L450.96,65.57 L451.97,65.50 L452.98,65.44 L453.99,65.39 L455.00,65.33 L456.01,65.27 L457.02,65.21 L458.03,65.15 L459.04,65.10 L460.05,65.04 L461.06,64.98 L462.07,64.93 L463.08,64.87 L464.09,64.82 L465.10,64.77 L466.11,64.71 L467.12,64.66 L468.13,64.61 L469.14,64.56 L470.15,64.51 L471.17,64.45 L472.18,64.40 L473.19,64.35 L474.20,64.30 L475.21,64.26 L476.22,64.21 L477.23,64.16 L478.24,64.11 L479.25,64.06 L480.26,64.02 L481.27,63.97 L482.28,63.92 L483.29,63.88 L484.30,63.83 L485.31,63.79 L486.32,63.74 L487.33,63.70 L488.34,63.65 L489.35,63.61 L490.36,63.57 L491.37,63.53 L492.38,63.48 L493.39,63.44 L494.40,63.40 L495.41,63.36 L496.42,63.32 L497.44,63.28 L498.45,63.24 L499.46,63.20 L500.47,63.16 L501.48,63.12 L502.49,63.08 L503.50,63.04 L504.51,63.00 L505.52,62.96 L506.53,62.92 L507.54,62.89 L508.55,62.85 L509.56,62.81 L510.57,62.78 L511.58,62.74 L512.59,62.70 L513.60,62.67 L514.61,62.63 L515.62,62.60 L516.63,62.56 L517.64,62.53 L518.65,62.49 L519.66,62.46 L520.67,62.43 L521.68,62.39 L522.69,62.36 L523.70,62.33 L524.72,62.29 L525.73,62.26 L526.74,62.23 L527.75,62.20 L528.76,62.17 L529.77,62.13 L530.78,62.10 L531.79,62.07 L532.80,62.04 L533.81,62.01 L534.82,61.98 L535.83,61.95 L536.84,61.92 L537.85,61.89 L538.86,61.86 L539.87,61.83 L540.88,61.80 L541.89,61.77 L542.90,61.74 L543.91,61.72 L544.92,61.69 L545.93,61.66 L546.94,61.63 L547.95,61.60 L548.96,61.58 L549.97,61.55 L550.98,61.52 L552.00,61.50 L553.01,61.47 L554.02,61.44 L555.03,61.42 L556.04,61.39 L557.05,61.37 L558.06,61.34 L559.07,61.31 L560.08,61.29 L561.09,61.26 L562.10,61.24 L563.11,61.21 L564.12,61.19 L565.13,61.17 L566.14,61.14 L567.15,61.12 L568.16,61.09 L569.17,61.07 L570.18,61.05 L571.19,61.02 L572.20,61.00 L573.21,60.98 L574.22,60.95 L575.23,60.93 L576.24,60.91 L577.25,60.89 L578.26,60.86 L579.28,60.84 L580.29,60.82 L581.30,60.80 L582.31,60.78 L583.32,60.75 L584.33,60.73 L585.34,60.71 L586.35,60.69 L587.36,60.67 L588.37,60.65 L589.38,60.63 L590.39,60.61 L591.40,60.59 L592.41,60.57 L593.42,60.55 L594.43,60.53 L595.44,60.51 L596.45,60.49 L597.46,60.47 L598.47,60.45 L599.48,60.43 L600.49,60.41 L601.50,60.39 L602.51,60.37 L603.52,60.35 L604.53,60.33 L605.55,60.31 L606.56,60.30 L607.57,60.28 L608.58,60.26 L609.59,60.24 L610.60,60.22 L611.61,60.21 L612.62,60.19 L613.63,60.17 L614.64,60.15 L615.65,60.13 L616.66,60.12 L617.67,60.10 L618.68,60.08 L619.69,60.07 L620.70,60.05 L621.71,60.03 L622.72,60.02 L623.73,60.00 L624.74,59.98 L625.75,59.97 L626.76,59.95 L627.77,59.93 L628.78,59.92 L629.79,59.90 L630.80,59.89 L631.81,59.87 L632.83,59.85 L633.84,59.84 L634.85,59.82 L635.86,59.81 L636.87,59.79 L637.88,59.78 L638.89,59.76 L639.90,59.75 L640.91,59.73 L641.92,59.72 L642.93,59.70 L643.94,59.69 L644.95,59.67 L645.96,59.66 L646.97,59.64 L647.98,59.63 L648.99,59.61 L650.00,59.60 L651.01,59.59 L652.02,59.57 L653.03,59.56 L654.04,59.54 L655.05,59.53 L656.06,59.52 L657.07,59.50 L658.08,59.49 L659.10,59.48 L660.11,59.46 L661.12,59.45 L662.13,59.44 L663.14,59.42 L664.15,59.41 L665.16,59.40 L666.17,59.38 L667.18,59.37 L668.19,59.36 L669.20,59.35 L670.21,59.33 L671.22,59.32 L672.23,59.31 L673.24,59.30 L674.25,59.28 L675.26,59.27 L676.27,59.26 L677.28,59.25 L678.29,59.23 L679.30,59.22 L680.31,59.21 L681.32,59.20 L682.33,59.19 L683.34,59.17 L684.35,59.16 L685.36,59.15 L686.38,59.14 L687.39,59.13 L688.40,59.12 L689.41,59.11 L690.42,59.09 L691.43,59.08 L692.44,59.07 L693.45,59.06 L694.46,59.05 L695.47,59.04 L696.48,59.03 L697.49,59.02 L698.50,59.01 L699.51,59.00 L700.52,58.98 L701.53,58.97 L702.54,58.96 L703.55,58.95 L704.56,58.94 L705.57,58.93 L706.58,58.92 L707.59,58.91 L708.60,58.90 L709.61,58.89 L710.62,58.88 L711.63,58.87 L712.64,58.86 L713.66,58.85 L714.67,58.84 L715.68,58.83 L716.69,58.82 L717.70,58.81 L718.71,58.80 L719.72,58.79 L720.73,58.78 L721.74,58.77 L722.75,58.76 L723.76,58.75 L724.77,58.74 L725.78,58.73 L726.79,58.73 L727.80,58.72 L728.81,58.71 L729.82,58.70 L730.83,58.69 L731.84,58.68 L732.85,58.67 L733.86,58.66 L734.87,58.65 L735.88,58.64 L736.89,58.63 L737.90,58.63 L738.91,58.62 L739.92,58.61 L740.94,58.60 L741.95,58.59 L742.96,58.58 L743.97,58.57 L744.98,58.56 L745.99,58.56 L747.00,58.55 L748.01,58.54 L749.02,58.53 L750.03,58.52 L751.04,58.51 L752.05,58.51 L753.06,58.50 L754.07,58.49 L755.08,58.48 L756.09,58.47 L757.10,58.47 L758.11,58.46 L759.12,58.45 L760.13,58.44 L761.14,58.43 L762.15,58.43 L763.16,58.42 L764.17,58.41 L765.18,58.40 L766.19,58.40 L767.21,58.39 L768.22,58.38 L769.23,58.37 L770.24,58.36 L771.25,58.36 L772.26,58.35 L773.27,58.34 L774.28,58.34 L775.29,58.33 L776.30,58.32 L777.31,58.31 L778.32,58.31 L779.33,58.30 L780.34,58.29 L781.35,58.28 L782.36,58.28 L783.37,58.27 L784.38,58.26 L785.39,58.26 L786.40,58.25 L787.41,58.24 L788.42,58.24 L789.43,58.23 L790.44,58.22 L791.45,58.21 L792.46,58.21 L793.47,58.20 L794.49,58.19 L795.50,58.19 L796.51,58.18 L797.52,58.17 L798.53,58.17 L799.54,58.16 L800.55,58.15 L801.56,58.15 L802.57,58.14 L803.58,58.14 L804.59,58.13 L805.60,58.12 L806.61,58.12 L807.62,58.11 L808.63,58.10 L809.64,58.10 L810.65,58.09 L811.66,58.08 L812.67,58.08 L813.68,58.07 L814.69,58.07 L815.70,58.06 L816.71,58.05 L817.72,58.05 L818.73,58.04 L819.74,58.04 L820.75,58.03 L821.77,58.02 L822.78,58.02 L823.79,58.01 L824.80,58.01 L825.81,58.00 L826.82,57.99 L827.83,57.99 L828.84,57.98 L829.85,57.98 L830.86,57.97 L831.87,57.97 L832.88,57.96 L833.89,57.95 L834.90,57.95 L835.91,57.94 L836.92,57.94 L837.93,57.93 L838.94,57.93 L839.95,57.92 L840.96,57.92 L841.97,57.91 L842.98,57.90 L843.99,57.90 L845.00,57.89 L846.01,57.89 L847.02,57.88 L848.04,57.88 L849.05,57.87 L850.06,57.87 L851.07,57.86 L852.08,57.86 L853.09,57.85 L854.10,57.85 L855.11,57.84 L856.12,57.84 L857.13,57.83 L858.14,57.83 L859.15,57.82 L860.16,57.82 L861.17,57.81 L862.18,57.81 L863.19,57.80 L864.20,57.80 L865.21,57.79 L866.22,57.79 L867.23,57.78 L868.24,57.78 L869.25,57.77 L870.26,57.77 L871.27,57.76 L872.28,57.76 L873.29,57.75 L874.30,57.75 L875.32,57.74 L876.33,57.74 L877.34,57.73 L878.35,57.73 L879.36,57.72 L880.37,57.72 L881.38,57.71 L882.39,57.71 L883.40,57.71 L884.41,57.70 L885.42,57.70 L886.43,57.69 L887.44,57.69 L888.45,57.68 L889.46,57.68 L890.47,57.67 L891.48,57.67 L892.49,57.66 L893.50,57.66 L894.51,57.66 L895.52,57.65 L896.53,57.65 L897.54,57.64 L898.55,57.64 L899.56,57.63 L900.57,57.63 L901.59,57.63 L902.60,57.62 L903.61,57.62 L904.62,57.61 L905.63,57.61 L906.64,57.60 L907.65,57.60 L908.66,57.60 L909.67,57.59 L910.68,57.59 L911.69,57.58 L912.70,57.58 L913.71,57.58 L914.72,57.57 L915.73,57.57 L916.74,57.56 L917.75,57.56 L918.76,57.56 L919.77,57.55 L920.78,57.55 L921.79,57.54 L922.80,57.54 L923.81,57.54 L924.82,57.53 L925.83,57.53 L926.84,57.52 L927.85,57.52 L928.87,57.52 L929.88,57.51 L930.89,57.51 L931.90,57.51 L932.91,57.50 L933.92,57.50 L934.93,57.49 L935.94,57.49 L936.95,57.49 L937.96,57.48 L938.97,57.48 L939.98,57.48 L940.99,57.47 L942.00,57.47" stroke="#006400" />
<path d="M133.70,582.80 L134.21,582.80 L134.71,582.77 L135.22,582.70 L135.72,582.55 L136.23,582.32 L136.73,581.96 L137.24,581.47 L137.74,580.82 L138.25,579.98 L138.75,578.93 L139.26,577.65 L139.76,576.11 L140.27,574.30 L140.77,572.19 L141.28,569.75 L141.78,566.98 L142.29,563.85 L142.79,560.36 L143.30,556.50 L143.80,552.27 L144.31,547.67 L144.81,542.70 L145.32,537.39 L145.82,531.75 L146.33,525.80 L146.83,519.56 L147.34,513.07 L147.85,506.34 L148.35,499.41 L148.86,492.31 L149.36,485.05 L149.87,477.68 L150.37,470.22 L150.88,462.68 L151.38,455.11 L151.89,447.51 L152.39,439.91 L152.90,432.33 L153.40,424.78 L153.91,417.29 L154.41,409.86 L154.92,402.51 L155.42,395.24 L155.93,388.07 L156.43,381.01 L156.94,374.06 L157.44,367.23 L157.95,360.52 L158.45,353.93 L158.96,347.48 L159.46,341.16 L159.97,334.97 L160.47,328.91 L160.98,322.99 L161.49,317.20 L161.99,311.55 L162.50,306.03 L163.00,300.64 L163.51,295.39 L164.01,290.26 L164.52,285.26 L165.02,280.38 L165.53,275.63 L166.03,270.99 L166.54,266.48 L167.04,262.08 L167.55,257.79 L168.05,253.61 L168.56,249.55 L169.06,245.58 L169.57,241.72 L170.07,237.96 L170.58,234.29 L171.08,230.72 L171.59,227.25 L172.09,223.86 L172.60,220.56 L173.10,217.34 L173.61,214.21 L174.11,211.16 L174.62,208.18 L175.13,205.28 L175.63,202.46 L176.14,199.70 L176.64,197.02 L177.15,194.40 L177.65,191.85 L178.16,189.36 L178.66,186.94 L179.17,184.57 L179.67,182.26 L180.18,180.01 L180.68,177.82 L181.19,175.67 L181.69,173.58 L182.20,171.54 L182.70,169.55 L183.21,167.61 L183.71,165.71 L184.22,163.86 L184.72,162.05 L185.23,160.28 L185.73,158.55 L186.24,156.87 L186.74,155.22 L187.25,153.61 L187.76,152.03 L188.26,150.50 L188.77,148.99 L189.27,147.52 L189.78,146.09 L190.28,144.68 L190.79,143.31 L191.29,141.96 L191.80,140.65 L192.30,139.36 L192.81,138.10 L193.31,136.87 L193.82,135.67 L194.32,134.49 L194.83,133.33 L195.33,132.20 L195.84,131.09 L196.34,130.01 L196.85,128.95 L197.35,127.91 L197.86,126.89 L198.36,125.89 L198.87,124.91 L199.37,123.95 L199.88,123.01 L200.38,122.09 L200.89,121.19 L201.40,120.30 L201.90,119.44 L202.41,118.58 L202.91,117.75 L203.42,116.93 L203.92,116.13 L204.43,115.34 L204.93,114.57 L205.44,113.81 L205.94,113.06 L206.45,112.33 L206.95,111.62 L207.46,110.91 L207.96,110.22 L208.47,109.54 L208.97,108.88 L209.48,108.22 L209.98,107.58 L210.49,106.95 L210.99,106.33 L211.50,105.72 L212.00,105.12 L212.51,104.54 L213.01,103.96 L213.52,103.39 L214.02,102.83 L214.53,102.29 L215.04,101.75 L215.54,101.22 L216.05,100.70 L216.55,100.18 L217.06,99.68 L217.56,99.18 L218.07,98.70 L218.57,98.22 L219.08,97.75 L219.58,97.28 L220.09,96.83 L220.59,96.38 L221.10,95.94 L221.60,95.50 L222.11,95.07 L222.61,94.65 L223.12,94.24 L223.62,93.83 L224.13,93.43 L224.63,93.04 L225.14,92.65 L225.64,92.26 L226.15,91.89 L226.65,91.51 L227.16,91.15 L227.66,90.79 L228.17,90.43 L228.68,90.08 L229.18,89.74 L229.69,89.40 L230.19,89.06 L230.70,88.73 L231.20,88.41 L231.71,88.09 L232.21,87.77 L232.72,87.46 L233.22,87.16 L233.73,86.86 L234.23,86.56 L234.74,86.26 L235.24,85.97 L235.75,85.69 L236.25,85.41 L236.76,85.13 L237.26,84.86 L237.77,84.59 L238.27,84.32 L238.78,84.06 L239.28,83.80 L239.79,83.54 L240.29,83.29 L240.80,83.04 L241.30,82.80 L241.81,82.56 L242.32,82.32 L242.82,82.08 L243.33,81.85 L243.83,81.62 L244.34,81.39 L244.84,81.17 L245.35,80.95 L245.85,80.73 L246.36,80.52 L246.86,80.30 L247.37,80.09 L247.87,79.89 L248.38,79.68 L248.88,79.48 L249.39,79.28 L249.89,79.09 L250.40,78.89 L250.90,78.70 L251.41,78.51 L251.91,78.32 L252.42,78.14 L252.92,77.96 L253.43,77.78 L253.93,77.60 L254.44,77.42 L254.94,77.25 L255.45,77.08 L255.96,76.91 L256.46,76.74 L256.97,76.57 L257.47,76.41 L257.98,76.25 L258.48,76.09 L258.99,75.93 L259.49,75.77 L260.00,75.62 L260.50,75.46 L261.01,75.31 L261.51,75.16 L262.02,75.02 L262.52,74.87 L263.03,74.73 L263.53,74.58 L264.04,74.44 L264.54,74.30 L265.05,74.17 L265.55,74.03 L266.06,73.89 L266.56,73.76 L267.07,73.63 L267.57,73.50 L268.08,73.37 L268.59,73.24 L269.09,73.12 L269.60,72.99 L270.10,72.87 L270.61,72.75 L271.11,72.62 L271.62,72.50 L272.12,72.39 L272.63,72.27 L273.13,72.15 L273.64,72.04 L274.14,71.93 L274.65,71.81 L275.15,71.70 L275.66,71.59 L276.16,71.48 L276.67,71.38 L277.17,71.27 L277.68,71.16 L278.18,71.06 L278.69,70.96 L279.19,70.85 L279.70,70.75 L280.20,70.65 L280.71,70.55 L281.21,70.46 L281.72,70.36 L282.23,70.26 L282.73,70.17 L283.24,70.07 L283.74,69.98 L284.25,69.89 L284.75,69.79 L285.26,69.70 L286.27,69.53 L287.28,69.35 L288.29,69.18 L289.30,69.01 L290.31,68.84 L291.32,68.68 L292.33,68.52 L293.34,68.37 L294.35,68.21 L295.36,68.06 L296.37,67.91 L297.38,67.77 L298.39,67.63 L299.40,67.49 L300.41,67.35 L301.42,67.21 L302.43,67.08 L303.44,66.95 L304.45,66.82 L305.46,66.70 L306.47,66.57 L307.48,66.45 L308.49,66.33 L309.51,66.21 L310.52,66.10 L311.53,65.98 L312.54,65.87 L313.55,65.76 L314.56,65.65 L315.57,65.55 L316.58,65.44 L317.59,65.34 L318.60,65.24 L319.61,65.14 L320.62,65.04 L321.63,64.94 L322.64,64.85 L323.65,64.76 L324.66,64.66 L325.67,64.57 L326.68,64.48 L327.69,64.40 L328.70,64.31 L329.71,64.23 L330.72,64.14 L331.73,64.06 L332.74,63.98 L333.75,63.90 L334.76,63.82 L335.77,63.74 L336.79,63.66 L337.80,63.59 L338.81,63.52 L339.82,63.44 L340.83,63.37 L341.84,63.30 L342.85,63.23 L343.86,63.16 L344.87,63.09 L345.88,63.02 L346.89,62.96 L347.90,62.89 L348.91,62.83 L349.92,62.76 L350.93,62.70 L351.94,62.64 L352.95,62.58 L353.96,62.52 L354.97,62.46 L355.98,62.40 L356.99,62.34 L358.00,62.29 L359.01,62.23 L360.02,62.18 L361.03,62.12 L362.04,62.07 L363.06,62.01 L364.07,61.96 L365.08,61.91 L366.09,61.86 L367.10,61.81 L368.11,61.76 L369.12,61.71 L370.13,61.66 L371.14,61.61 L372.15,61.56 L373.16,61.52 L374.17,61.47 L375.18,61.43 L376.19,61.38 L377.20,61.34 L378.21,61.29 L379.22,61.25 L380.23,61.21 L381.24,61.16 L382.25,61.12 L383.26,61.08 L384.27,61.04 L385.28,61.00 L386.29,60.96 L387.30,60.92 L388.31,60.88 L389.32,60.84 L390.34,60.80 L391.35,60.77 L392.36,60.73 L393.37,60.69 L394.38,60.66 L395.39,60.62 L396.40,60.59 L397.41,60.55 L398.42,60.52 L399.43,60.48 L400.44,60.45 L401.45,60.41 L402.46,60.38 L403.47,60.35 L404.48,60.32 L405.49,60.28 L406.50,60.25 L407.51,60.22 L408.52,60.19 L409.53,60.16 L410.54,60.13 L411.55,60.10 L412.56,60.07 L413.57,60.04 L414.58,60.01 L415.59,59.98 L416.60,59.95 L417.62,59.93 L418.63,59.90 L419.64,59.87 L420.65,59.84 L421.66,59.82 L422.67,59.79 L423.68,59.76 L424.69,59.74 L425.70,59.71 L426.71,59.69 L427.72,59.66 L428.73,59.64 L429.74,59.61 L430.75,59.59 L431.76,59.56 L432.77,59.54 L433.78,59.52 L434.79,59.49 L435.80,59.47 L436.81,59.45 L437.82,59.42 L438.83,59.40 L439.84,59.38 L440.85,59.36 L441.86,59.33 L442.87,59.31 L443.89,59.29 L444.90,59.27 L445.91,59.25 L446.92,59.23 L447.93,59.21 L448.94,59.19 L449.95,59.17 L450.96,59.15 L451.97,59.13 L452.98,59.11 L453.99,59.09 L455.00,59.07 L456.01,59.05 L457.02,59.03 L458.03,59.01 L459.04,58.99 L460.05,58.97 L461.06,58.96 L462.07,58.94 L463.08,58.92 L464.09,58.90 L465.10,58.88 L466.11,58.87 L467.12,58.85 L468.13,58.83 L469.14,58.82 L470.15,58.80 L471.17,58.78 L472.18,58.77 L473.19,58.75 L474.20,58.73 L475.21,58.72 L476.22,58.70 L477.23,58.69 L478.24,58.67 L479.25,58.65 L480.26,58.64 L481.27,58.62 L482.28,58.61 L483.29,58.59 L484.30,58.58 L485.31,58.56 L486.32,58.55 L487.33,58.53 L488.34,58.52 L489.35,58.51 L490.36,58.49 L491.37,58.48 L492.38,58.46 L493.39,58.45 L494.40,58.44 L495.41,58.42 L496.42,58.41 L497.44,58.40 L498.45,58.38 L499.46,58.37 L500.47,58.36 L501.48,58.34 L502.49,58.33 L503.50,58.32 L504.51,58.31 L505.52,58.29 L506.53,58.28 L507.54,58.27 L508.55,58.26 L509.56,58.25 L510.57,58.23 L511.58,58.22 L512.59,58.21 L513.60,58.20 L514.61,58.19 L515.62,58.18 L516.63,58.16 L517.64,58.15 L518.65,58.14 L519.66,58.13 L520.67,58.12 L521.68,58.11 L522.69,58.10 L523.70,58.09 L524.72,58.08 L525.73,58.07 L526.74,58.06 L527.75,58.05 L528.76,58.03 L529.77,58.02 L530.78,58.01 L531.79,58.00 L532.80,57.99 L533.81,57.98 L534.82,57.97 L535.83,57.96 L536.84,57.95 L537.85,57.95 L538.86,57.94 L539.87,57.93 L540.88,57.92 L541.89,57.91 L542.90,57.90 L543.91,57.89 L544.92,57.88 L545.93,57.87 L546.94,57.86 L547.95,57.85 L548.96,57.84 L549.97,57.83 L550.98,57.83 L552.00,57.82 L553.01,57.81 L554.02,57.80 L555.03,57.79 L556.04,57.78 L557.05,57.77 L558.06,57.77 L559.07,57.76 L560.08,57.75 L561.09,57.74 L562.10,57.73 L563.11,57.73 L564.12,57.72 L565.13,57.71 L566.14,57.70 L567.15,57.69 L568.16,57.69 L569.17,57.68 L570.18,57.67 L571.19,57.66 L572.20,57.66 L573.21,57.65 L574.22,57.64 L575.23,57.63 L576.24,57.63 L577.25,57.62 L578.26,57.61 L579.28,57.60 L580.29,57.60 L581.30,57.59 L582.31,57.58 L583.32,57.58 L584.33,57.57 L585.34,57.56 L586.35,57.56 L587.36,57.55 L588.37,57.54 L589.38,57.54 L590.39,57.53 L591.40,57.52 L592.41,57.52 L593.42,57.51 L594.43,57.50 L595.44,57.50 L596.45,57.49 L597.46,57.48 L598.47,57.48 L599.48,57.47 L600.49,57.46 L601.50,57.46 L602.51,57.45 L603.52,57.45 L604.53,57.44 L605.55,57.43 L606.56,57.43 L607.57,57.42 L608.58,57.42 L609.59,57.41 L610.60,57.40 L611.61,57.40 L612.62,57.39 L613.63,57.39 L614.64,57.38 L615.65,57.38 L616.66,57.37 L617.67,57.36 L618.68,57.36 L619.69,57.35 L620.70,57.35 L621.71,57.34 L622.72,57.34 L623.73,57.33 L624.74,57.33 L625.75,57.32 L626.76,57.32 L627.77,57.31 L628.78,57.31 L629.79,57.30 L630.80,57.29 L631.81,57.29 L632.83,57.28 L633.84,57.28 L634.85,57.27 L635.86,57.27 L636.87,57.26 L637.88,57.26 L638.89,57.25 L639.90,57.25 L640.91,57.25 L641.92,57.24 L642.93,57.24 L643.94,57.23 L644.95,57.23 L645.96,57.22 L646.97,57.22 L647.98,57.21 L648.99,57.21 L650.00,57.20 L651.01,57.20 L652.02,57.19 L653.03,57.19 L654.04,57.18 L655.05,57.18 L656.06,57.18 L657.07,57.17 L658.08,57.17 L659.10,57.16 L660.11,57.16 L661.12,57.15 L662.13,57.15 L663.14,57.15 L664.15,57.14 L665.16,57.14 L666.17,57.13 L667.18,57.13 L668.19,57.12 L669.20,57.12 L670.21,57.12 L671.22,57.11 L672.23,57.11 L673.24,57.10 L674.25,57.10 L675.26,57.10 L676.27,57.09 L677.28,57.09 L678.29,57.08 L679.30,57.08 L680.31,57.08 L681.32,57.07 L682.33,57.07 L683.34,57.07 L684.35,57.06 L685.36,57.06 L686.38,57.05 L687.39,57.05 L688.40,57.05 L689.41,57.04 L690.42,57.04 L691.43,57.04 L692.44,57.03 L693.45,57.03 L694.46,57.03 L695.47,57.02 L696.48,57.02 L697.49,57.01 L698.50,57.01 L699.51,57.01 L700.52,57.00 L701.53,57.00 L702.54,57.00 L703.55,56.99 L704.56,56.99 L705.57,56.99 L706.58,56.98 L707.59,56.98 L708.60,56.98 L709.61,56.97 L710.62,56.97 L711.63,56.97 L712.64,56.96 L713.66,56.96 L714.67,56.96 L715.68,56.95 L716.69,56.95 L717.70,56.95 L718.71,56.95 L719.72,56.94 L720.73,56.94 L721.74,56.94 L722.75,56.93 L723.76,56.93 L724.77,56.93 L725.78,56.92 L726.79,56.92 L727.80,56.92 L728.81,56.91 L729.82,56.91 L730.83,56.91 L731.84,56.91 L732.85,56.90 L733.86,56.90 L734.87,56.90 L735.88,56.89 L736.89,56.89 L737.90,56.89 L738.91,56.89 L739.92,56.88 L740.94,56.88 L741.95,56.88 L742.96,56.87 L743.97,56.87 L744.98,56.87 L745.99,56.87 L747.00,56.86 L748.01,56.86 L749.02,56.86 L750.03,56.86 L751.04,56.85 L752.05,56.85 L753.06,56.85 L754.07,56.84 L755.08,56.84 L756.09,56.84 L757.10,56.84 L758.11,56.83 L759.12,56.83 L760.13,56.83 L761.14,56.83 L762.15,56.82 L763.16,56.82 L764.17,56.82 L765.18,56.82 L766.19,56.81 L767.21,56.81 L768.22,56.81 L769.23,56.81 L770.24,56.80 L771.25,56.80 L772.26,56.80 L773.27,56.80 L774.28,56.80 L775.29,56.79 L776.30,56.79 L777.31,56.79 L778.32,56.79 L779.33,56.78 L780.34,56.78 L781.35,56.78 L782.36,56.78 L783.37,56.77 L784.38,56.77 L785.39,56.77 L786.40,56.77 L787.41,56.77 L788.42,56.76 L789.43,56.76 L790.44,56.76 L791.45,56.76 L792.46,56.75 L793.47,56.75 L794.49,56.75 L795.50,56.75 L796.51,56.75 L797.52,56.74 L798.53,56.74 L799.54,56.74 L800.55,56.74 L801.56,56.74 L802.57,56.73 L803.58,56.73 L804.59,56.73 L805.60,56.73 L806.61,56.72 L807.62,56.72 L808.63,56.72 L809.64,56.72 L810.65,56.72 L811.66,56.71 L812.67,56.71 L813.68,56.71 L814.69,56.71 L815.70,56.71 L816.71,56.70 L817.72,56.70 L818.73,56.70 L819.74,56.70 L820.75,56.70 L821.77,56.70 L822.78,56.69 L823.79,56.69 L824.80,56.69 L825.81,56.69 L826.82,56.69 L827.83,56.68 L828.84,56.68 L829.85,56.68 L830.86,56.68 L831.87,56.68 L832.88,56.67 L833.89,56.67 L834.90,56.67 L835.91,56.67 L836.92,56.67 L837.93,56.67 L838.94,56.66 L839.95,56.66 L840.96,56.66 L841.97,56.66 L842.98,56.66 L843.99,56.66 L845.00,56.65 L846.01,56.65 L847.02,56.65 L848.04,56.65 L849.05,56.65 L850.06,56.65 L851.07,56.64 L852.08,56.64 L853.09,56.64 L854.10,56.64 L855.11,56.64 L856.12,56.64 L857.13,56.63 L858.14,56.63 L859.15,56.63 L860.16,56.63 L861.17,56.63 L862.18,56.63 L863.19,56.62 L864.20,56.62 L865.21,56.62 L866.22,56.62 L867.23,56.62 L868.24,56.62 L869.25,56.61 L870.26,56.61 L871.27,56.61 L872.28,56.61 L873.29,56.61 L874.30,56.61 L875.32,56.61 L876.33,56.60 L877.34,56.60 L878.35,56.60 L879.36,56.60 L880.37,56.60 L881.38,56.60 L882.39,56.59 L883.40,56.59 L884.41,56.59 L885.42,56.59 L886.43,56.59 L887.44,56.59 L888.45,56.59 L889.46,56.58 L890.47,56.58 L891.48,56.58 L892.49,56.58 L893.50,56.58 L894.51,56.58 L895.52,56.58 L896.53,56.57 L897.54,56.57 L898.55,56.57 L899.56,56.57 L900.57,56.57 L901.59,56.57 L902.60,56.57 L903.61,56.57 L904.62,56.56 L905.63,56.56 L906.64,56.56 L907.65,56.56 L908.66,56.56 L909.67,56.56 L910.68,56.56 L911.69,56.55 L912.70,56.55 L913.71,56.55 L914.72,56.55 L915.73,56.55 L916.74,56.55 L917.75,56.55 L918.76,56.55 L919.77,56.54 L920.78,56.54 L921.79,56.54 L922.80,56.54 L923.81,56.54 L924.82,56.54 L925.83,56.54 L926.84,56.54 L927.85,56.53 L928.87,56.53 L929.88,56.53 L930.89,56.53 L931.90,56.53 L932.91,56.53 L933.92,56.53 L934.93,56.53 L935.94,56.52 L936.95,56.52 L937.96,56.52 L938.97,56.52 L939.98,56.52 L940.99,56.52 L942.00,56.52" stroke="#000000" />
</g>
<g><text transform="translate(115.30,594.20) scale(0.96,1)" text-anchor="end">0</text><text transform="translate(115.30,488.62) scale(0.96,1)" text-anchor="end">20</text><text transform="translate(115.30,383.04) scale(0.96,1)" text-anchor="end">40</text><text transform="translate(115.30,277.45) scale(0.96,1)" text-anchor="end">60</text><text transform="translate(115.30,171.87) scale(0.96,1)" text-anchor="end">80</text><text transform="translate(115.30,66.29) scale(0.96,1)" text-anchor="end">100</text><text transform="translate(138.00,624.80) scale(0.96,1)" text-anchor="middle">0</text><text transform="translate(239.04,624.80) scale(0.96,1)" text-anchor="middle">100</text><text transform="translate(340.07,624.80) scale(0.96,1)" text-anchor="middle">200</text><text transform="translate(441.11,624.80) scale(0.96,1)" text-anchor="middle">300</text><text transform="translate(542.15,624.80) scale(0.96,1)" text-anchor="middle">400</text><text transform="translate(643.19,624.80) scale(0.96,1)" text-anchor="middle">500</text><text transform="translate(744.22,624.80) scale(0.96,1)" text-anchor="middle">600</text><text transform="translate(845.26,624.80) scale(0.96,1)" text-anchor="middle">700</text><text transform="translate(946.30,624.80) scale(0.96,1)" text-anchor="middle">800</text></g>
<g><text transform="translate(781.20,455.90) scale(0.985,1)" text-anchor="end" style="font-size:32px">TiMnCrSb</text><path d="M799,445.30H883" stroke="#0000ff" fill="none" stroke-width="3.3"/><text transform="translate(781.20,487.00) scale(0.985,1)" text-anchor="end" style="font-size:32px">TiMnCrSn</text><path d="M799,476.40H883" stroke="#ff0000" fill="none" stroke-width="3.3"/><text transform="translate(781.20,518.35) scale(0.985,1)" text-anchor="end" style="font-size:32px">NiMnCrSn</text><path d="M799,507.75H883" stroke="#006400" fill="none" stroke-width="3.3"/><text transform="translate(781.20,549.20) scale(0.985,1)" text-anchor="end" style="font-size:32px">NiMnCrSb</text><path d="M799,538.60H883" stroke="#000000" fill="none" stroke-width="3.3"/></g>
<text transform="translate(537.50,672.00) scale(0.975,1)" text-anchor="middle" style="font-size:32px">Temperature (K)</text>
<text transform="translate(21.80,293.20) rotate(-90) scale(0.975,1)" text-anchor="middle" style="font-size:32px">Specific Heat (J/mol.K)</text>
</svg>
</body></html>
